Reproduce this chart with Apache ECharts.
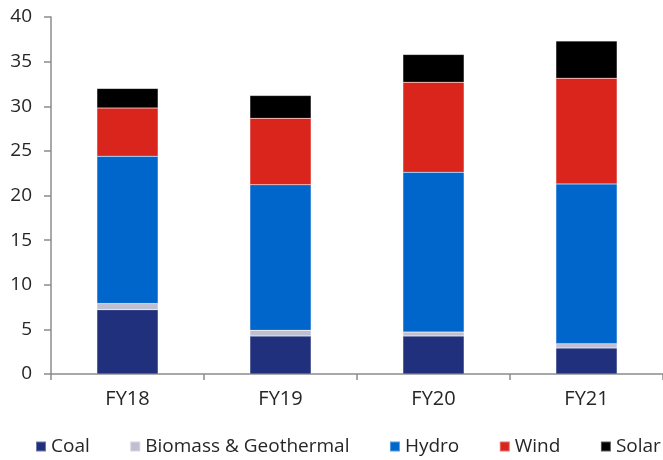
<!DOCTYPE html>
<html>
<head>
<meta charset="utf-8">
<script src="https://cdn.jsdelivr.net/npm/echarts@6/dist/echarts.min.js"></script>
<style>
  html, body { margin: 0; padding: 0; background: #fff; }
  #chart { width: 663px; height: 460px; }
</style>
</head>
<body>
<div id="chart"></div>
<script>
// Generation mix by fiscal year (stacked)
const categories = ['FY18', 'FY19', 'FY20', 'FY21'];
const coal    = [7.2, 4.25, 4.25, 2.9];
const biomass = [0.7, 0.65, 0.45, 0.5];
const hydro   = [16.5, 16.3, 17.9, 17.9];
const wind    = [5.4, 7.45, 10.1, 11.85];
const solar   = [2.2, 2.55, 3.1, 4.15];
const yTicks  = [0, 5, 10, 15, 20, 25, 30, 35, 40];

const FONT = '"Open Sans", "Noto Sans", sans-serif';
const TEXT = '#262626';
const AXIS = '#8c8c8c';

const seriesDefs = [
  { name: 'Coal', data: coal, color: '#21307d' },
  { name: 'Biomass & Geothermal', data: biomass, color: '#bfbfd1' },
  { name: 'Hydro', data: hydro, color: '#0066cc' },
  { name: 'Wind', data: wind, color: '#da251d' },
  { name: 'Solar', data: solar, color: '#000000' }
];

const chart = echarts.init(document.getElementById('chart'), null, { renderer: 'canvas' });
chart.setOption({
  animation: false,
  textStyle: { fontFamily: FONT },
  grid: { left: 51, right: 0, top: 17, bottom: 86, containLabel: false },
  legend: {
    top: 437,
    left: 35,
    width: 628,
    padding: 0,
    itemWidth: 10,
    itemHeight: 10,
    itemGap: 39.5,
    icon: 'rect',
    textStyle: { fontSize: 19, color: TEXT, fontFamily: FONT, padding: [1, 0, 0, 0] },
    data: seriesDefs.map(s => s.name)
  },
  xAxis: {
    type: 'category',
    data: categories,
    boundaryGap: true,
    axisLine: { lineStyle: { color: AXIS, width: 1.5 } },
    axisTick: { show: true, length: 6, alignWithLabel: false, lineStyle: { color: AXIS, width: 1.5 } },
    axisLabel: { fontSize: 20, color: TEXT, margin: 15, fontFamily: FONT }
  },
  yAxis: {
    type: 'value',
    min: yTicks[0],
    max: yTicks[yTicks.length - 1],
    interval: 5,
    splitLine: { show: false },
    axisLine: { show: true, lineStyle: { color: AXIS, width: 1.5 } },
    axisTick: { show: true, length: 7, lineStyle: { color: AXIS, width: 1.5 } },
    axisLabel: { fontSize: 19, color: TEXT, margin: 19, fontFamily: FONT }
  },
  series: seriesDefs.map(s => ({
    name: s.name,
    type: 'bar',
    stack: 'total',
    barWidth: '40%',
    data: s.data,
    itemStyle: { color: s.color, borderColor: 'rgba(255,255,255,0.35)', borderWidth: 0.5 }
  }))
});
</script>
</body>
</html>
